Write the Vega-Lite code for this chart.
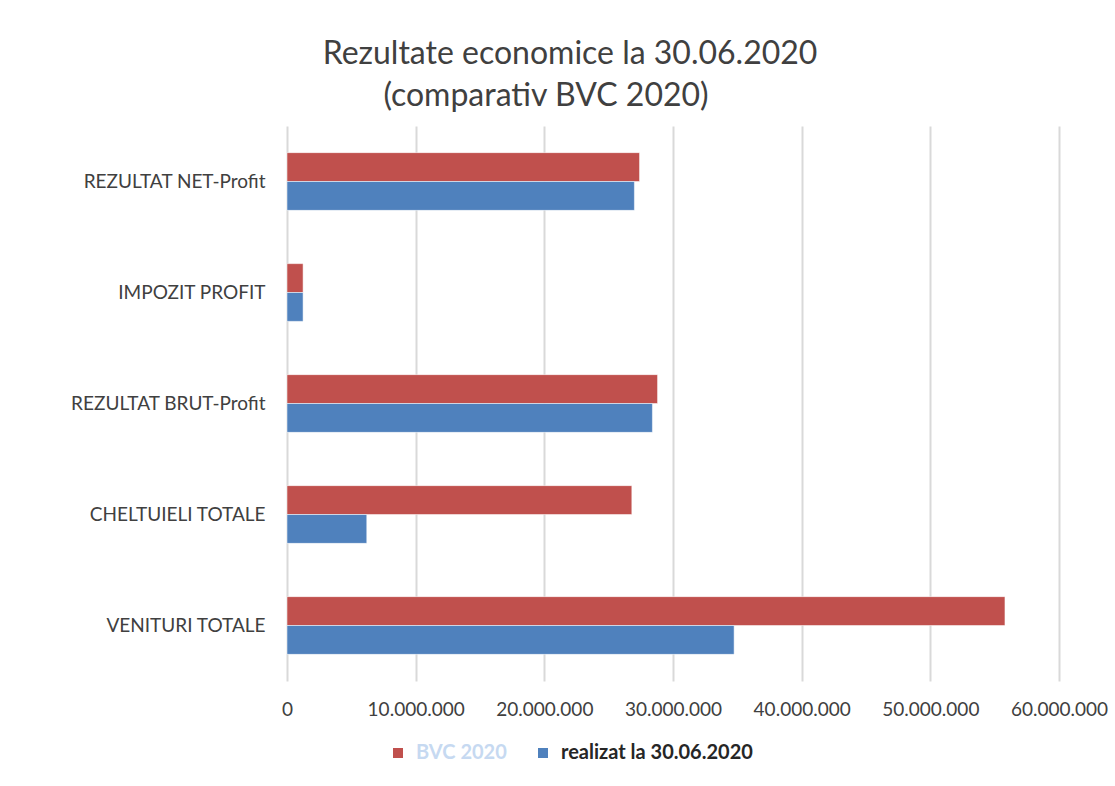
{
  "$schema": "https://vega.github.io/schema/vega-lite/v6.json",
  "autosize": {"type": "none"},
  "padding": {"left": 287, "top": 126, "right": 56, "bottom": 105},
  "width": 772,
  "height": 555,
  "background": "white",
  "title": {
    "text": ["Rezultate economice la 30.06.2020", "(comparativ BVC 2020)\u2003\u2003\u200b"],
    "anchor": "middle",
    "dx": -103,
    "offset": 13,
    "font": "Lato",
    "fontSize": 32,
    "fontWeight": "normal",
    "color": "#404040",
    "lineHeight": 42
  },
  "data": {
    "values": [
      {"indicator": "REZULTAT NET-Profit", "serie": "BVC 2020", "valoare": 27400000},
      {"indicator": "REZULTAT NET-Profit", "serie": "realizat la 30.06.2020", "valoare": 27000000},
      {"indicator": "IMPOZIT PROFIT", "serie": "BVC 2020", "valoare": 1250000},
      {"indicator": "IMPOZIT PROFIT", "serie": "realizat la 30.06.2020", "valoare": 1250000},
      {"indicator": "REZULTAT BRUT-Profit", "serie": "BVC 2020", "valoare": 28800000},
      {"indicator": "REZULTAT BRUT-Profit", "serie": "realizat la 30.06.2020", "valoare": 28400000},
      {"indicator": "CHELTUIELI TOTALE", "serie": "BVC 2020", "valoare": 26800000},
      {"indicator": "CHELTUIELI TOTALE", "serie": "realizat la 30.06.2020", "valoare": 6200000},
      {"indicator": "VENITURI TOTALE", "serie": "BVC 2020", "valoare": 55800000},
      {"indicator": "VENITURI TOTALE", "serie": "realizat la 30.06.2020", "valoare": 34750000}
    ]
  },
  "mark": {"type": "bar", "stroke": "#ffffff", "strokeOpacity": 0.5, "strokeWidth": 1},
  "encoding": {
    "y": {
      "field": "indicator",
      "type": "nominal",
      "sort": ["REZULTAT NET-Profit", "IMPOZIT PROFIT", "REZULTAT BRUT-Profit", "CHELTUIELI TOTALE", "VENITURI TOTALE"],
      "scale": {"paddingInner": 0.48, "paddingOuter": 0.24},
      "axis": {
        "title": null,
        "domain": false,
        "ticks": false,
        "labelPadding": 22,
        "labelLimit": 400,
        "labelFont": "Lato",
        "labelFontSize": 19,
        "labelColor": "#404040"
      }
    },
    "yOffset": {
      "field": "serie",
      "type": "nominal",
      "sort": ["BVC 2020", "realizat la 30.06.2020"]
    },
    "x": {
      "field": "valoare",
      "type": "quantitative",
      "scale": {"domain": [0, 60000000], "nice": false},
      "axis": {
        "title": null,
        "values": [0, 10000000, 20000000, 30000000, 40000000, 50000000, 60000000],
        "labelExpr": "replace(format(datum.value, ','), /,/g, '.')",
        "labelOverlap": false,
        "labelFlush": false,
        "labelBound": false,
        "labelLimit": 400,
        "domain": false,
        "ticks": false,
        "grid": true,
        "gridColor": "#d9d9d9",
        "gridWidth": 2,
        "labelPadding": 19,
        "labelFont": "Lato",
        "labelFontSize": 19,
        "labelColor": "#404040"
      }
    },
    "color": {
      "field": "serie",
      "type": "nominal",
      "sort": ["BVC 2020", "realizat la 30.06.2020"],
      "scale": {"domain": ["BVC 2020", "realizat la 30.06.2020"], "range": ["#c0504d", "#4f81bd"]},
      "legend": {
        "title": null,
        "orient": "none",
        "direction": "horizontal",
        "legendX": 101,
        "legendY": 617,
        "symbolType": "square",
        "symbolSize": 100,
        "symbolStrokeWidth": 0,
        "labelFont": "Lato",
        "labelFontSize": 20,
        "labelFontWeight": "bold",
        "labelLimit": 400,
        "labelColor": {"expr": "datum.value === 'BVC 2020' ? '#c6d9f1' : '#262626'"},
        "columnPadding": 26,
        "labelOffset": 8
      }
    }
  },
  "config": {"view": {"stroke": null}}
}
